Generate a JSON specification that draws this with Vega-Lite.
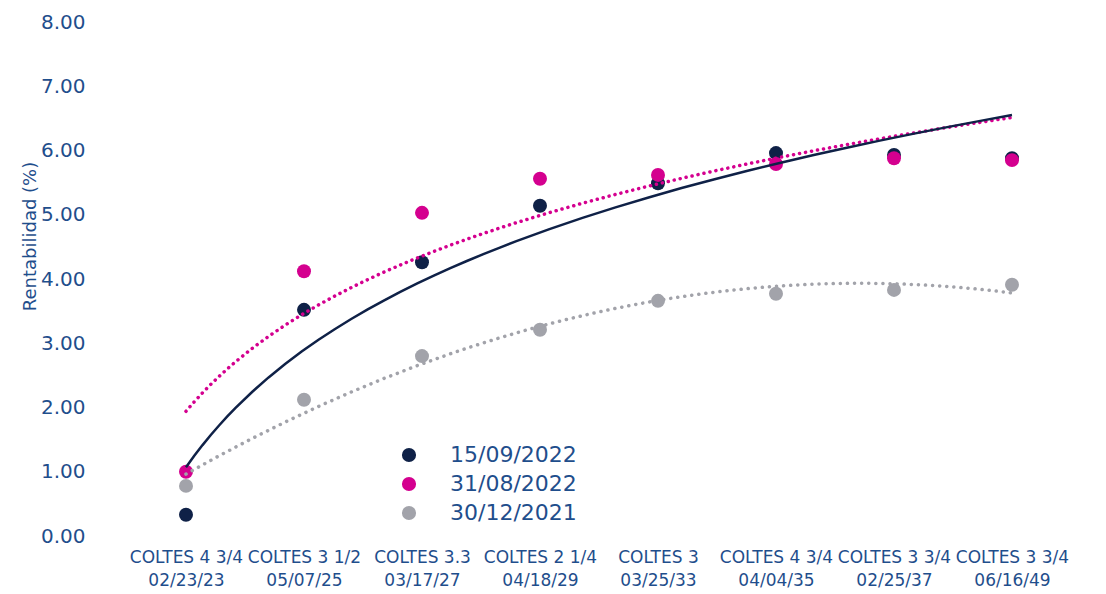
{
  "$schema": "https://vega.github.io/schema/vega-lite/v6.json",
  "width": 944,
  "height": 514,
  "autosize": {"type": "none"},
  "padding": {"left": 127, "top": 22, "right": 35, "bottom": 58},
  "background": "white",
  "config": {
    "view": {"stroke": null},
    "font": "DejaVu Sans"
  },
  "data": {
    "values": [
      {"x": 1, "serie": "15/09/2022", "y": 0.33},
      {"x": 2, "serie": "15/09/2022", "y": 3.52},
      {"x": 3, "serie": "15/09/2022", "y": 4.26},
      {"x": 4, "serie": "15/09/2022", "y": 5.14},
      {"x": 5, "serie": "15/09/2022", "y": 5.49},
      {"x": 6, "serie": "15/09/2022", "y": 5.96},
      {"x": 7, "serie": "15/09/2022", "y": 5.93},
      {"x": 8, "serie": "15/09/2022", "y": 5.88},
      {"x": 1, "serie": "31/08/2022", "y": 1.0},
      {"x": 2, "serie": "31/08/2022", "y": 4.12},
      {"x": 3, "serie": "31/08/2022", "y": 5.03},
      {"x": 4, "serie": "31/08/2022", "y": 5.56},
      {"x": 5, "serie": "31/08/2022", "y": 5.62},
      {"x": 6, "serie": "31/08/2022", "y": 5.79},
      {"x": 7, "serie": "31/08/2022", "y": 5.88},
      {"x": 8, "serie": "31/08/2022", "y": 5.85},
      {"x": 1, "serie": "30/12/2021", "y": 0.78},
      {"x": 2, "serie": "30/12/2021", "y": 2.12},
      {"x": 3, "serie": "30/12/2021", "y": 2.80},
      {"x": 4, "serie": "30/12/2021", "y": 3.21},
      {"x": 5, "serie": "30/12/2021", "y": 3.66},
      {"x": 6, "serie": "30/12/2021", "y": 3.77},
      {"x": 7, "serie": "30/12/2021", "y": 3.83},
      {"x": 8, "serie": "30/12/2021", "y": 3.91}
    ]
  },
  "layer": [
    {
      "mark": {"type": "point", "filled": true, "opacity": 1, "size": 195, "shape": "circle"},
      "encoding": {
        "x": {
          "field": "x", "type": "quantitative",
          "scale": {"domain": [0.5, 8.5], "nice": false, "zero": false},
          "axis": {
            "title": null, "values": [1, 2, 3, 4, 5, 6, 7, 8],
            "grid": false, "domain": false, "ticks": false,
            "labelFontSize": 17, "labelColor": "#1f4e8c", "labelPadding": 13,
            "labelLineHeight": 23, "labelOverlap": false,
            "labelExpr": "[['COLTES 4 3/4','02/23/23'],['COLTES 3 1/2','05/07/25'],['COLTES 3.3','03/17/27'],['COLTES 2 1/4','04/18/29'],['COLTES 3','03/25/33'],['COLTES 4 3/4','04/04/35'],['COLTES 3 3/4','02/25/37'],['COLTES 3 3/4','06/16/49']][datum.value - 1]"
          }
        },
        "y": {
          "field": "y", "type": "quantitative",
          "scale": {"domain": [0, 8], "nice": false},
          "axis": {
            "title": "Rentabilidad (%)", "values": [0, 1, 2, 3, 4, 5, 6, 7, 8],
            "format": ".2f", "grid": false, "domain": false, "ticks": false,
            "labelFontSize": 20, "labelColor": "#1f4e8c", "labelPadding": 42,
            "titleFontSize": 18, "titleFontWeight": "normal", "titleColor": "#1f4e8c",
            "titleX": -97, "titleY": 214, "titleAngle": -90, "titleAlign": "center", "titleBaseline": "middle"
          }
        },
        "color": {
          "field": "serie", "type": "nominal",
          "scale": {"domain": ["15/09/2022", "31/08/2022", "30/12/2021"], "range": ["#0f2147", "#d4008f", "#a2a3aa"]},
          "legend": {
            "title": null, "orient": "none", "legendX": 271, "legendY": 422,
            "symbolType": "circle", "symbolSize": 200, "symbolStrokeWidth": 0,
            "labelFontSize": 22, "labelColor": "#1f4e8c", "labelOffset": 30,
            "rowPadding": 7
          }
        },
        "order": {"field": "x", "type": "quantitative"}
      }
    },
    {
      "transform": [
        {"filter": "datum.serie === '30/12/2021'"},
        {"regression": "y", "on": "x", "method": "poly", "order": 2, "extent": [1, 8]}
      ],
      "mark": {"type": "line", "color": "#a2a3aa", "strokeWidth": 3.5, "strokeDash": [0.1, 7], "strokeCap": "round"},
      "encoding": {
        "x": {"field": "x", "type": "quantitative"},
        "y": {"field": "y", "type": "quantitative"}
      }
    },
    {
      "transform": [
        {"filter": "datum.serie === '31/08/2022'"},
        {"regression": "y", "on": "x", "method": "log", "extent": [1, 8]}
      ],
      "mark": {"type": "line", "color": "#d4008f", "strokeWidth": 3.5, "strokeDash": [0.1, 6], "strokeCap": "round"},
      "encoding": {
        "x": {"field": "x", "type": "quantitative"},
        "y": {"field": "y", "type": "quantitative"}
      }
    },
    {
      "transform": [
        {"filter": "datum.serie === '15/09/2022'"},
        {"regression": "y", "on": "x", "method": "log", "extent": [1, 8]}
      ],
      "mark": {"type": "line", "color": "#0f2147", "strokeWidth": 2.5},
      "encoding": {
        "x": {"field": "x", "type": "quantitative"},
        "y": {"field": "y", "type": "quantitative"}
      }
    }
  ]
}
